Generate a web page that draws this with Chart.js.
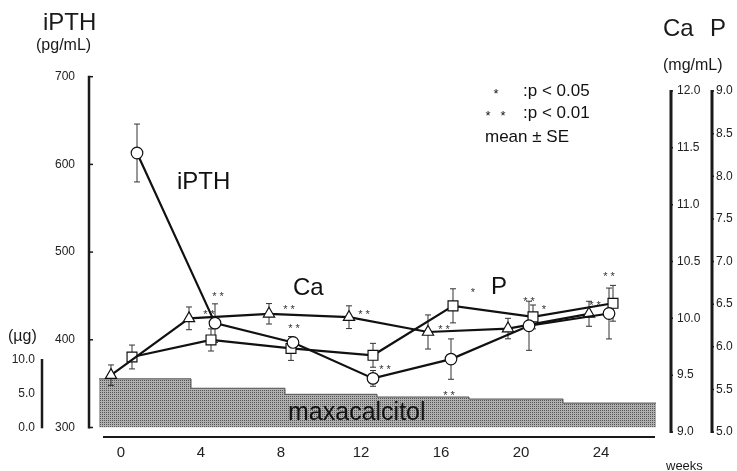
<!DOCTYPE html>
<html>
<head>
<meta charset="utf-8">
<script src="https://cdn.jsdelivr.net/npm/chart.js@4.4.1/dist/chart.umd.min.js"></script>
<style>
  html, body { margin: 0; padding: 0; background: #fff; }
  #wrap { width: 737px; height: 471px; position: relative; }
</style>
</head>
<body>
<div id="wrap"><canvas id="chart"></canvas></div>
<script>
const FONT = '"Liberation Sans", Arial, sans-serif';
const INK = '#1a1a1a';

const weekTicks = [0, 4, 8, 12, 16, 20, 24];

// iPTH, circles (pg/mL)
const pthWeeks = [0.8, 4.7, 8.6, 12.6, 16.5, 20.4, 24.4];
const pthMean = [613, 419, 397, 356, 378, 416, 430];
const pthSE = [33, 22, 5, 9, 23, 28, 29];

// Ca, triangles (mg/mL)
const caWeeks = [-0.5, 3.4, 7.4, 11.4, 15.35, 19.35, 23.4];
const caMean = [9.50, 10.00, 10.04, 10.01, 9.88, 9.91, 10.04];
const caSE = [0.09, 0.10, 0.09, 0.10, 0.15, 0.09, 0.11];

// P, squares (mg/mL)
const pWeeks = [0.55, 4.5, 8.5, 12.6, 16.6, 20.6, 24.6];
const pMean = [5.88, 6.08, 5.98, 5.90, 6.48, 6.35, 6.51];
const pSE = [0.14, 0.13, 0.14, 0.14, 0.20, 0.14, 0.21];

// maxacalcitol dose (ug), one value per step
const doseStart = [-1.1, 3.5, 8.2, 12.8, 17.4, 22.1];
const doseEnd = 26.75;
const doseUg = [7.2, 5.8, 4.9, 4.5, 4.2, 3.6];

// significance marks, placed on week / iPTH scale
const sigWeeks = [4.85, 4.4, 8.4, 8.65, 12.15, 13.2, 16.15, 17.6, 16.4, 20.4, 21.15, 23.7, 24.4];
const sigLevels = [452, 432, 437, 416, 432, 369, 415, 457, 339, 446, 437, 442, 475];
const sigText = ['* *', '* *', '* *', '* *', '* *', '* *', '* *', '*', '* *', '* *', '*', '* *', '* *'];

const pthTicks = [300, 400, 500, 600, 700];
const caTicks = [9.0, 9.5, 10.0, 10.5, 11.0, 11.5, 12.0];
const pTicks = [5.0, 5.5, 6.0, 6.5, 7.0, 7.5, 8.0, 8.5, 9.0];
const doseTicks = [0, 5, 10];

function makeStipple() {
  const c = document.createElement('canvas');
  c.width = 2; c.height = 2;
  const g = c.getContext('2d');
  g.fillStyle = '#b0b0b0'; g.fillRect(0, 0, 2, 2);
  g.fillStyle = '#555'; g.fillRect(0, 0, 1, 1);
  return g.createPattern(c, 'repeat');
}

function fixedTicks(list) {
  return scale => { scale.ticks = list.map(v => ({ value: v })); };
}

function yScale(position, weight, width, min, max, list, padding, fmt) {
  return {
    type: 'linear', position, weight, min, max,
    grid: { display: false, drawTicks: false }, border: { display: false },
    afterBuildTicks: fixedTicks(list),
    afterFit: s => { s.width = width; },
    ticks: { padding, color: '#222', font: { family: FONT, size: 12 }, callback: fmt }
  };
}

function text(ctx, str, x, y, size, align) {
  ctx.font = size + 'px ' + FONT;
  ctx.textAlign = align || 'left';
  ctx.textBaseline = 'middle';
  ctx.fillText(str, x, y);
}

function drawErrorBars(chart) {
  const ctx = chart.ctx;
  ctx.save();
  ctx.strokeStyle = '#333';
  ctx.lineWidth = 1;
  chart.data.datasets.forEach((ds, i) => {
    if (!ds.se) return;
    const meta = chart.getDatasetMeta(i);
    const sc = chart.scales[ds.yAxisID];
    meta.data.forEach((pt, j) => {
      const v = ds.data[j].y;
      const t = sc.getPixelForValue(v + ds.se[j]);
      const b = sc.getPixelForValue(v - ds.se[j]);
      ctx.beginPath();
      ctx.moveTo(pt.x, t); ctx.lineTo(pt.x, b);
      ctx.moveTo(pt.x - 3, t); ctx.lineTo(pt.x + 3, t);
      ctx.moveTo(pt.x - 3, b); ctx.lineTo(pt.x + 3, b);
      ctx.stroke();
    });
  });
  ctx.restore();
}

function vAxis(ctx, sc, x, list, lw, tickDir, tickLen) {
  const top = sc.getPixelForValue(list[list.length - 1]);
  const bot = sc.getPixelForValue(list[0]);
  ctx.lineWidth = lw;
  ctx.beginPath();
  ctx.moveTo(x, top - 1); ctx.lineTo(x, bot + 1);
  ctx.stroke();
  ctx.lineWidth = 1.5;
  list.forEach(v => {
    const y = sc.getPixelForValue(v);
    ctx.beginPath();
    ctx.moveTo(x, y); ctx.lineTo(x + tickDir * tickLen, y);
    ctx.stroke();
  });
}

const decor = {
  id: 'decor',
  afterDatasetDraw(chart, args) {
    if (chart.data.datasets[args.index].isDose) drawErrorBars(chart);
  },
  afterDraw(chart) {
    const ctx = chart.ctx;
    const s = chart.scales;
    const area = chart.chartArea;
    ctx.save();
    ctx.strokeStyle = INK;
    ctx.fillStyle = INK;

    vAxis(ctx, s.yPTH, s.yPTH.right, pthTicks, 2.5, 1, 4);
    vAxis(ctx, s.yDose, s.yDose.right, doseTicks, 2.5, 1, 0);
    vAxis(ctx, s.yCa, s.yCa.left, caTicks, 3, 1, 2);
    vAxis(ctx, s.yP, s.yP.left, pTicks, 3, 1, 2);

    // week baseline under the dose area
    ctx.lineWidth = 2;
    ctx.beginPath();
    ctx.moveTo(s.x.getPixelForValue(-0.9), area.bottom + 5);
    ctx.lineTo(s.x.getPixelForValue(26.7), area.bottom + 5);
    ctx.stroke();

    // axis titles
    text(ctx, 'iPTH', 43, 23, 24);
    text(ctx, '(pg/mL)', 36, 46, 16);
    text(ctx, 'Ca', 663, 29, 24);
    text(ctx, 'P', 710, 29, 24);
    text(ctx, '(mg/mL)', 663, 66, 16);
    text(ctx, '(\u00b5g)', 8, 337, 16);
    text(ctx, 'weeks', 666, 466, 13);

    // series labels
    ctx.fillStyle = '#111';
    text(ctx, 'iPTH', 177, 182, 24);
    text(ctx, 'Ca', 293, 288, 24);
    text(ctx, 'P', 491, 287, 24);
    text(ctx, 'maxacalcitol', 288, 413, 25);

    // key
    text(ctx, '*', 496, 94, 13, 'center');
    text(ctx, ':p < 0.05', 523, 91, 17);
    text(ctx, '*', 488, 116, 13, 'center');
    text(ctx, '*', 503, 116, 13, 'center');
    text(ctx, ':p < 0.01', 523, 113, 17);
    text(ctx, 'mean \u00b1 SE', 485, 137, 17);

    // significance marks
    ctx.fillStyle = '#333';
    sigText.forEach((t, i) => {
      text(ctx, t, s.x.getPixelForValue(sigWeeks[i]), s.yPTH.getPixelForValue(sigLevels[i]) + 3, 11, 'center');
    });
    ctx.restore();
  }
};

// chart area spans y 76.7 .. 432; scale ranges set so each axis lands where it is drawn
const doseData = doseStart.map((w, i) => ({ x: w, y: doseUg[i] }));
doseData.push({ x: doseEnd, y: doseUg[doseUg.length - 1] });

new Chart(document.getElementById('chart'), {
  type: 'line',
  data: {
    datasets: [
      {
        label: 'iPTH', yAxisID: 'yPTH', se: pthSE,
        data: pthWeeks.map((w, i) => ({ x: w, y: pthMean[i] })),
        borderColor: '#111', borderWidth: 2.2,
        pointStyle: 'circle', pointRadius: 5.8,
        pointBackgroundColor: '#fff', pointBorderColor: '#111', pointBorderWidth: 1.2
      },
      {
        label: 'Ca', yAxisID: 'yCa', se: caSE,
        data: caWeeks.map((w, i) => ({ x: w, y: caMean[i] })),
        borderColor: '#111', borderWidth: 2.2,
        pointStyle: 'triangle', pointRadius: 6.5,
        pointBackgroundColor: '#fff', pointBorderColor: '#111', pointBorderWidth: 1.2
      },
      {
        label: 'P', yAxisID: 'yP', se: pSE,
        data: pWeeks.map((w, i) => ({ x: w, y: pMean[i] })),
        borderColor: '#111', borderWidth: 2.2,
        pointStyle: 'rect', pointRadius: 7,
        pointBackgroundColor: '#fff', pointBorderColor: '#111', pointBorderWidth: 1.2
      },
      {
        label: 'maxacalcitol', yAxisID: 'yDose', isDose: true, order: 10,
        data: doseData,
        stepped: true, fill: 'origin',
        backgroundColor: makeStipple(),
        borderColor: '#555', borderWidth: 1, pointRadius: 0
      }
    ]
  },
  options: {
    responsive: true,
    maintainAspectRatio: false,
    animation: false,
    layout: { padding: { top: 76.7, left: 0, right: 0, bottom: 0 } },
    plugins: { legend: { display: false }, tooltip: { enabled: false } },
    scales: {
      x: {
        type: 'linear', min: -1.6, max: 27.5,
        grid: { display: false, drawTicks: false }, border: { display: false },
        afterBuildTicks: fixedTicks(weekTicks),
        afterFit: s => { s.height = 39; },
        ticks: { padding: 12, color: '#222', font: { family: FONT, size: 15 } }
      },
      yPTH: yScale('left', 0, 47, 294.87, 700, pthTicks, 14, v => String(v)),
      yDose: yScale('left', 1, 42, -0.70, 52.09, doseTicks, 7, v => v.toFixed(1)),
      yCa: yScale('right', 0, 41, 9, 12.126, caTicks, 6, v => v.toFixed(1)),
      yP: yScale('right', 0, 25, 5, 9.168, pTicks, 4, v => v.toFixed(1))
    }
  },
  plugins: [decor]
});
</script>
</body>
</html>
